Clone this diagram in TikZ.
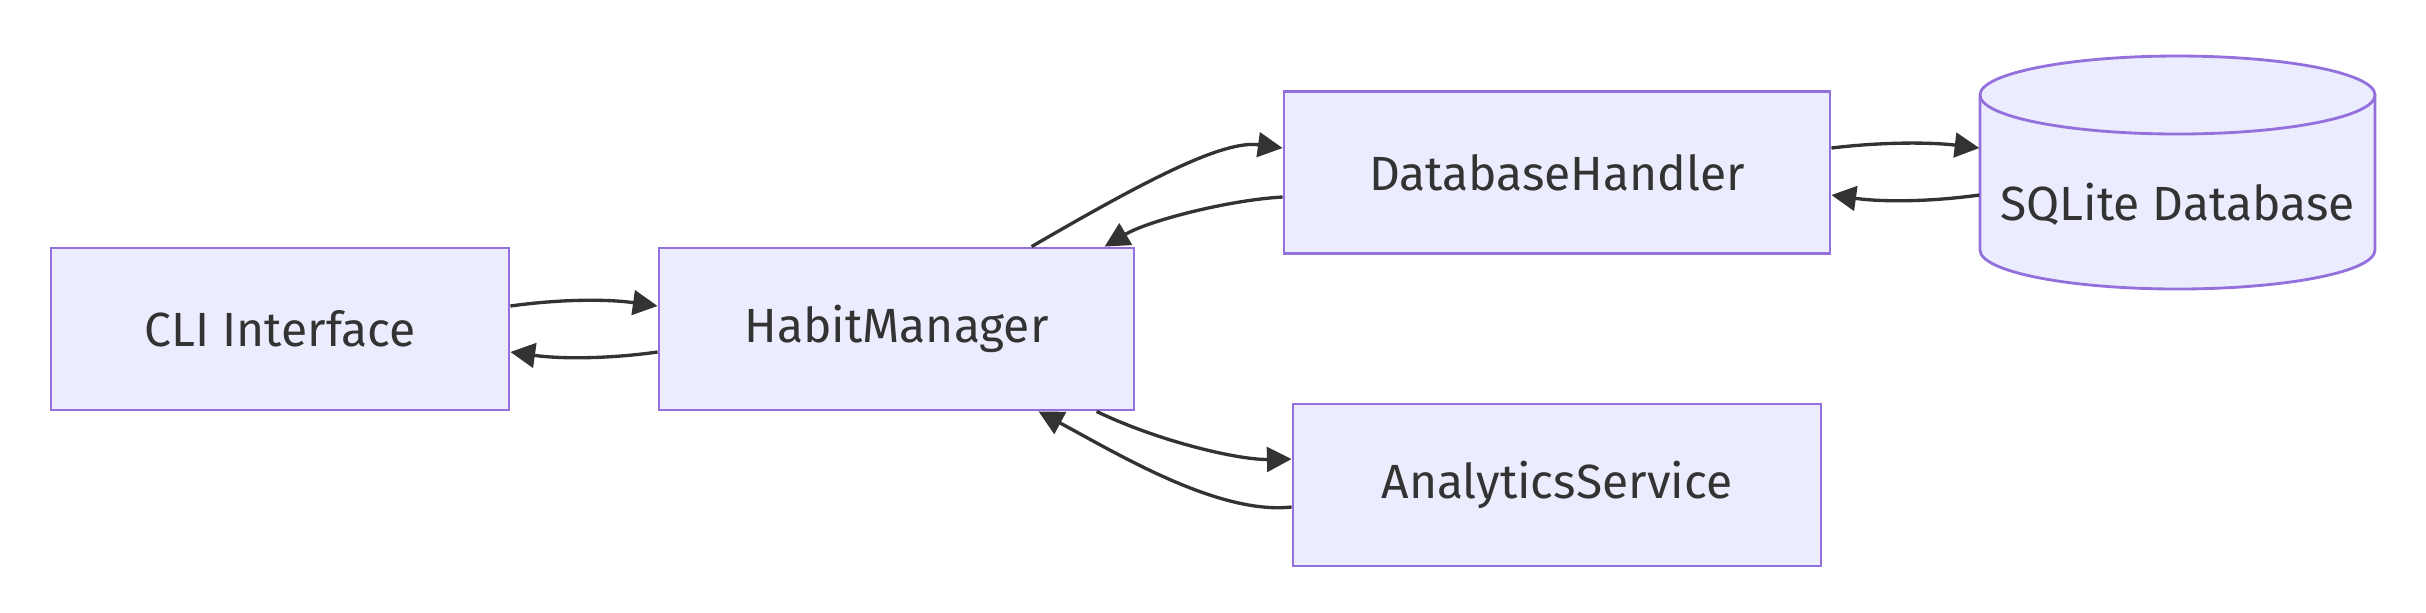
\documentclass[tikz,border=0pt]{standalone}
\usepackage{fontspec}
\setmainfont{Fira Sans}
\usetikzlibrary{arrows.meta,calc}
\definecolor{nodefill}{HTML}{ECECFF}
\definecolor{nodeline}{HTML}{9370DB}
\definecolor{edgeline}{HTML}{333333}
\begin{document}
\begin{tikzpicture}[x=0.3pt,y=-0.3pt,
  lbl/.style={font=\fontsize{14.4}{18}\selectfont,text=edgeline},
  box/.style={lbl,draw=nodeline,fill=nodefill,line width=0.85pt,minimum height=48.6pt,inner sep=0pt},
  link/.style={draw=edgeline,line width=1pt,-{Triangle[length=7.4pt,width=7.4pt]}}]
\useasboundingbox (0,0) rectangle (2426,612);
\node[box,minimum width=137.4pt] (cli) at (280,329) {CLI Interface};
\node[box,minimum width=142.5pt] (hm) at (896.5,329) {HabitManager};
\node[box,minimum width=163.8pt] (db) at (1557,172.5) {DatabaseHandler};
\node[box,minimum width=158.4pt] (as) at (1557,485) {AnalyticsService};
% cylinder
\path[draw=nodeline,fill=nodefill,line width=0.85pt] (1980,95) -- (1980,250)
  arc[start angle=180,end angle=360,x radius=59.25pt,y radius=11.7pt] -- (2375,95)
  arc[start angle=0,end angle=180,x radius=59.25pt,y radius=11.7pt] -- cycle;
\draw[nodeline,line width=0.85pt] (1980,95) arc[start angle=180,end angle=360,x radius=59.25pt,y radius=11.7pt];
\node[lbl,minimum width=118.5pt,inner sep=0pt] (sql) at (2177.5,204) {SQLite Database};
% edges
\draw[link] ($(cli.east)+(0,-23)$) .. controls +(50,-7) and +(-50,-7) .. ($(hm.west)+(0,-23)$);
\draw[link] ($(hm.west)+(0,23)$) .. controls +(-50,7) and +(50,7) .. ($(cli.east)+(0,23)$);
\draw[link] ($(hm.north west)+(374,0)$) .. controls +(117,-68) and +(-59,-8) .. ($(db.west)+(0,-24.5)$);
\draw[link] ($(db.west)+(0,24.5)$) .. controls +(-54,3) and +(44,-26) .. ($(hm.north west)+(447,0)$);
\draw[link] ($(hm.south west)+(439,0)$) .. controls +(62,30) and +(-53,1) .. ($(as.west)+(0,-26)$);
\draw[link] ($(as.west)+(0,22)$) .. controls +(-73,8) and +(80,43) .. ($(hm.south west)+(381,0)$);
\draw[link] ($(db.east)+(0,-24.5)$) .. controls +(50,-6) and +(-50,-6) .. ($(sql.west)+(0,-56)$);
\draw[link] ($(sql.west)+(0,-9)$) .. controls +(-50,7) and +(50,7) .. ($(db.east)+(0,22.5)$);
\end{tikzpicture}
\end{document}
